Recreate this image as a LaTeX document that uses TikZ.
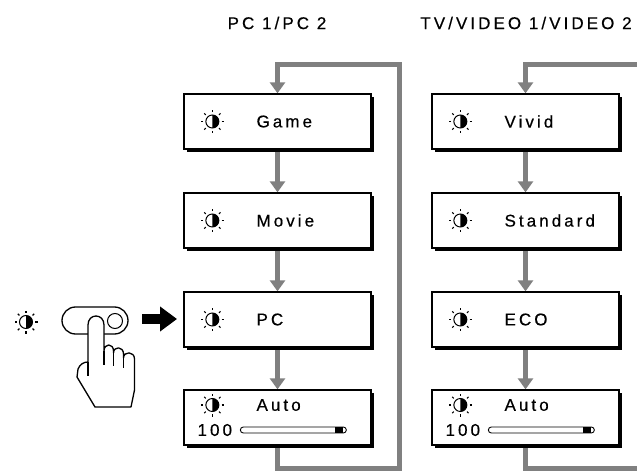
\documentclass[tikz,border=0pt]{standalone}
\usepackage{fontspec}
\setmainfont{Liberation Sans}
\newfontfamily\spaced{Liberation Sans}[LetterSpace=18, FakeBold=0.4]
\usetikzlibrary{arrows.meta,shadows,backgrounds,calc}
\definecolor{flowgray}{RGB}{128,128,128}
\tikzset{
  menubox/.style={draw=black, line width=1.3pt, fill=white, minimum width=187pt,
    minimum height=55pt, inner sep=0pt,
    drop shadow={shadow xshift=3pt, shadow yshift=-3pt, fill=black, opacity=1}},
  lbl/.style={font=\spaced\fontsize{17}{20}\selectfont, inner sep=0pt, anchor=west},
  hdr/.style={font=\spaced\fontsize{17}{20}\selectfont, inner sep=0pt},
  flow/.style={draw=flowgray, line width=5pt, line join=miter,
    -{Triangle[width=15pt,length=11pt]}},
  loopline/.style={draw=flowgray, line width=5pt, line join=miter},
  outline/.style={draw=black, line width=1.3pt, line join=round},
  sun/.pic={
    \draw[line width=1pt] (0pt,0pt) circle (6.5pt);
    \fill (0pt,6.5pt) arc[start angle=90, end angle=-90, radius=6.5pt] -- cycle;
    \foreach \a in {0,45,...,315}
      \draw[line width=1.1pt] (\a:9.3pt) -- (\a:11.5pt);
  }
}
\begin{document}
\begin{tikzpicture}[x=1pt, y=-1pt]
\useasboundingbox (0,0) rectangle (637,473);

% column headings
\node[hdr] (hdrL) at (277,23) {PC 1/PC 2};
\node[hdr] (hdrR) at (526,23) {TV/VIDEO 1/VIDEO 2};

% menu boxes, PC inputs
\node[menubox] (gameL)  at (277.5,121.5) {};
\node[menubox] (movieL) at (277.5,220.5) {};
\node[menubox] (pcL)    at (277.5,319.5) {};
\node[menubox] (autoL)  at (277.5,417.5) {};
% menu boxes, TV/video inputs
\node[menubox] (vividR) at (525.5,121.5) {};
\node[menubox] (stdR)   at (525.5,220.5) {};
\node[menubox] (ecoR)   at (525.5,319.5) {};
\node[menubox] (autoR)  at (525.5,417.5) {};

% box contents
\foreach \b/\t in {gameL/Game, movieL/Movie, pcL/PC, vividR/Vivid, stdR/Standard, ecoR/ECO} {
  \pic at ($(\b.west)+(29,0)$) {sun};
  \node[lbl] (\b-t) at ($(\b.west)+(73,0)$) {\t};
}
\foreach \b in {autoL, autoR} {
  \pic at ($(\b.west)+(29,-12.5)$) {sun};
  \node[lbl] (\b-t) at ($(\b.west)+(73,-12.5)$) {Auto};
  \node[lbl] (\b-v) at ($(\b.west)+(14,12.5)$) {100};
  \fill ($(\b.west)+(152,9.5)$) rectangle ($(\b.west)+(160,15.5)$);
  \draw[line width=0.9pt, rounded corners=3pt]
    ($(\b.west)+(57,9.5)$) rectangle ($(\b.west)+(163,15.5)$);
}

% loop turning points
\coordinate (Lbot) at (399.5,468);
\coordinate (Ltop) at (399.5,64.5);
\coordinate (Rbot) at (645,468);
\coordinate (Rtop) at (645,64.5);

\begin{scope}[on background layer]
  \draw[flow] (gameL.south) -- (movieL.north);
  \draw[flow] (movieL.south) -- (pcL.north);
  \draw[flow] (pcL.south) -- (autoL.north);
  \draw[flow] (autoL.south) |- (Lbot) -- (Ltop) -| (gameL.north);
  \draw[flow] (vividR.south) -- (stdR.north);
  \draw[flow] (stdR.south) -- (ecoR.north);
  \draw[flow] (ecoR.south) -- (autoR.north);
  \draw[loopline] (autoR.south) |- (Rbot);
  \draw[flow] (Rtop) -| (vividR.north);
\end{scope}

% brightness button pressed by a hand
\pic at (26,322) {sun};
\draw[outline, fill=white] (75.5,307) -- (114.5,307)
  arc[start angle=90, end angle=-90, radius=13.5pt] -- (75.5,334)
  arc[start angle=270, end angle=90, radius=13.5pt] -- cycle;
\draw[line width=1pt] (115,321) circle (7.5pt);
\draw[outline, fill=white]
  (88,362) -- (88,325) .. controls (88,313) and (104,313) .. (104,325)
  -- (104,351) .. controls (104,343) and (113.5,343) .. (113.5,351)
  -- (113.5,353) .. controls (113.5,346) and (123.5,346) .. (123.5,354)
  -- (123.5,358) .. controls (123.5,351) and (134.5,351) .. (134.5,359)
  -- (134.5,390) -- (131,407) -- (95,407) -- (77,377)
  -- (78,369) .. controls (80,364) and (84,362) .. (88,362) -- cycle;
\draw[outline] (88,362) -- (88,376);
\draw[outline] (104,351) -- (104,365);
\draw[outline] (113.5,353) -- (113.5,366);
\draw[outline] (123.5,358) -- (123.5,368);

% pointer towards the picture-mode menu
\coordinate (pushS) at (142,319);
\coordinate (pushE) at (177,319);
\draw[line width=10pt, -{Triangle[width=24pt,length=17pt]}] (pushS) -- (pushE);
\end{tikzpicture}
\end{document}
